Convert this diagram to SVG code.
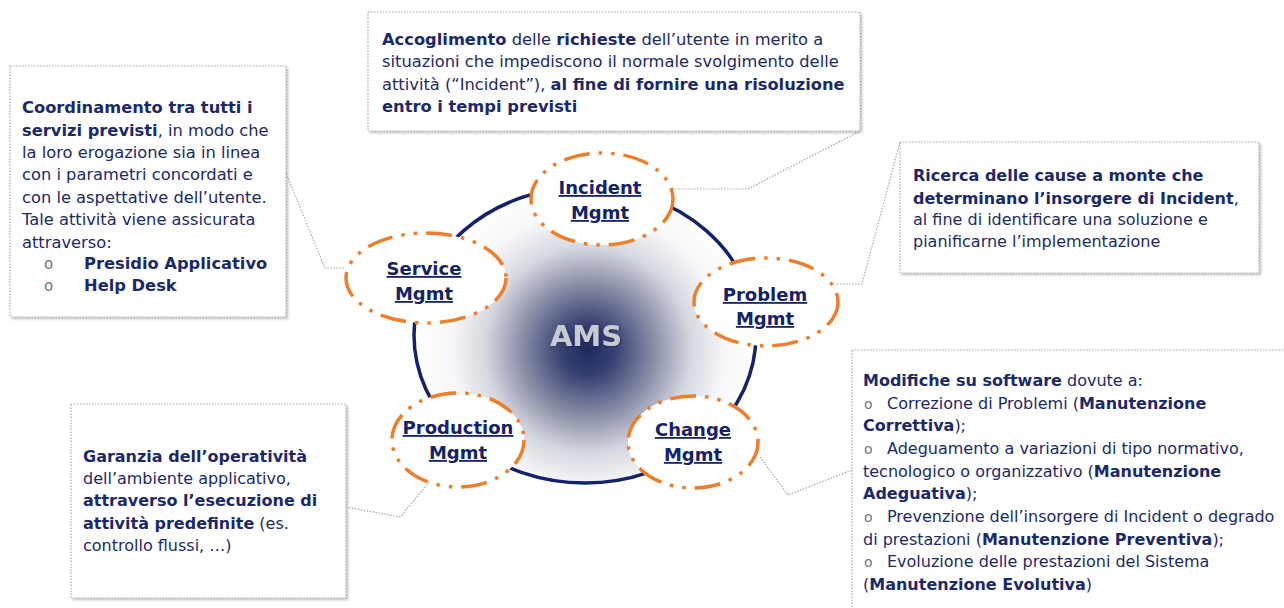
<svg xmlns="http://www.w3.org/2000/svg" width="1284" height="608" viewBox="0 0 1284 608">
<defs>
<radialGradient id="core" gradientUnits="userSpaceOnUse" cx="588" cy="350" r="172">
<stop offset="0" stop-color="#1f295c"/>
<stop offset="0.15" stop-color="#364070"/>
<stop offset="0.38" stop-color="#878ca6"/>
<stop offset="0.6" stop-color="#d6d8e0"/>
<stop offset="0.8" stop-color="#f8f8fa"/>
<stop offset="1" stop-color="#ffffff"/>
</radialGradient>
<filter id="sh" x="-5%" y="-5%" width="110%" height="115%">
<feDropShadow dx="2" dy="2" stdDeviation="1.2" flood-color="#000" flood-opacity="0.22"/>
</filter>
<filter id="tsh" x="-10%" y="-10%" width="120%" height="130%">
<feDropShadow dx="1" dy="1" stdDeviation="0.8" flood-color="#1a2040" flood-opacity="0.6"/>
</filter>
</defs>
<style>
.box{fill:#fff;stroke:#a8a8a8;stroke-width:1.2;stroke-dasharray:1.5 1.5;filter:url(#sh)}
.con{fill:none;stroke:#a8a8a8;stroke-width:1.2;stroke-dasharray:1.5 1.5}
.t{font-family:"DejaVu Sans",Verdana,sans-serif;fill:#1c2969}
.t16{font-size:16px}
.t163{font-size:16.3px}
.b{font-weight:bold}
.bul{font-family:"DejaVu Sans",sans-serif;fill:#6f7488}
.node{fill:#fff;stroke:#ee7d2c;stroke-width:3.5;stroke-dasharray:26 9 3.5 9 3.5 9}
.lbl{font-family:"DejaVu Sans",Verdana,sans-serif;font-size:18px;font-weight:bold;fill:#15226a;text-anchor:middle;text-decoration:underline}
</style>

<rect width="1284" height="608" fill="#fff"/>

<g id="boxes">
<g id="box-incident">
<rect class="box" x="368" y="12" width="492" height="119"/>
<text class="t t163" x="382" y="44.5"><tspan class="b">Accoglimento</tspan> delle <tspan class="b">richieste</tspan> dell’utente in merito a</text>
<text class="t t163" x="382" y="67">situazioni che impediscono il normale svolgimento delle</text>
<text class="t t163" x="382" y="90">attività (“Incident”), <tspan class="b">al fine di fornire una risoluzione</tspan></text>
<text class="t t163 b" x="382" y="112">entro i tempi previsti</text>
</g>
<g id="box-service">
<rect class="box" x="10" y="66" width="276" height="251"/>
<text class="t t163 b" x="22" y="113">Coordinamento tra tutti i</text>
<text class="t t163" x="22" y="135.5"><tspan class="b">servizi previsti</tspan>, in modo che</text>
<text class="t t163" x="22" y="158">la loro erogazione sia in linea</text>
<text class="t t163" x="22" y="180">con i parametri concordati e</text>
<text class="t t163" x="22" y="202.5">con le aspettative dell’utente.</text>
<text class="t t163" x="22" y="225">Tale attività viene assicurata</text>
<text class="t t163" x="22" y="247.5">attraverso:</text>
<text class="bul" x="44" y="269" font-size="15">o</text>
<text class="t t163 b" x="84" y="269">Presidio Applicativo</text>
<text class="bul" x="44" y="291" font-size="15">o</text>
<text class="t t163 b" x="84" y="291">Help Desk</text>
</g>
<g id="box-problem">
<rect class="box" x="900" y="142" width="359" height="131"/>
<text class="t t16 b" x="913" y="181">Ricerca delle cause a monte che</text>
<text class="t t16" x="913" y="203.5"><tspan class="b">determinano l’insorgere di Incident</tspan>,</text>
<text class="t t16" x="913" y="225">al fine di identificare una soluzione e</text>
<text class="t t16" x="913" y="247">pianificarne l’implementazione</text>
</g>
<g id="box-production">
<rect class="box" x="71" y="404" width="275" height="194"/>
<text class="t t16 b" x="83" y="462">Garanzia dell’operatività</text>
<text class="t t16" x="83" y="484">dell’ambiente applicativo,</text>
<text class="t t16 b" x="83" y="506">attraverso l’esecuzione di</text>
<text class="t t16" x="83" y="528.5"><tspan class="b">attività predefinite</tspan> (es.</text>
<text class="t t16" x="83" y="551">controllo flussi, …)</text>
</g>
<g id="box-change">
<rect class="box" x="852" y="350" width="450" height="280"/>
<text class="t t16" x="863" y="386"><tspan class="b">Modifiche su software</tspan> dovute a:</text>
<text class="bul" x="864" y="408.5" font-size="14">o</text>
<text class="t t16" x="887" y="408.5">Correzione di Problemi (<tspan class="b">Manutenzione</tspan></text>
<text class="t t16" x="863" y="431"><tspan class="b">Correttiva</tspan>);</text>
<text class="bul" x="864" y="454" font-size="14">o</text>
<text class="t t16" x="887" y="454">Adeguamento a variazioni di tipo normativo,</text>
<text class="t t16" x="863" y="476.5">tecnologico o organizzativo (<tspan class="b">Manutenzione</tspan></text>
<text class="t t16" x="863" y="499"><tspan class="b">Adeguativa</tspan>);</text>
<text class="bul" x="864" y="522" font-size="14">o</text>
<text class="t t16" x="887" y="522">Prevenzione dell’insorgere di Incident o degrado</text>
<text class="t t16" x="863" y="544.5">di prestazioni (<tspan class="b">Manutenzione Preventiva</tspan>);</text>
<text class="bul" x="864" y="567" font-size="14">o</text>
<text class="t t16" x="887" y="567">Evoluzione delle prestazioni del Sistema</text>
<text class="t t16" x="863" y="590">(<tspan class="b">Manutenzione Evolutiva</tspan>)</text>
</g>
</g>

<g id="connectors">
<polyline class="con" points="673,189 748,189 860,131"/>
<polyline class="con" points="286,173 325,268 346,268"/>
<polyline class="con" points="837,284 862,284 900,142"/>
<polyline class="con" points="346,507 400,517 431,480"/>
<polyline class="con" points="760,457 788,495 852,470"/>
</g>

<g id="ams">
<ellipse cx="585" cy="335" rx="171" ry="148" fill="url(#core)"/>
<ellipse cx="585" cy="335" rx="171" ry="148" fill="none" stroke="#13226a" stroke-width="3.5"/>
<text x="586" y="346" font-family="DejaVu Sans,Verdana,sans-serif" font-size="29" font-weight="bold" fill="#c6cad4" text-anchor="middle" filter="url(#tsh)">AMS</text>
</g>

<g id="node-incident">
<ellipse class="node" cx="602" cy="199" rx="71" ry="46"/>
<text class="lbl" x="600" y="194">Incident</text>
<text class="lbl" x="600" y="219">Mgmt</text>
</g>
<g id="node-service">
<ellipse class="node" cx="426" cy="278" rx="80" ry="45"/>
<text class="lbl" x="424" y="275">Service</text>
<text class="lbl" x="424" y="300">Mgmt</text>
</g>
<g id="node-problem">
<ellipse class="node" cx="766" cy="302" rx="72" ry="44"/>
<text class="lbl" x="765" y="301">Problem</text>
<text class="lbl" x="765" y="325">Mgmt</text>
</g>
<g id="node-production">
<ellipse class="node" cx="458" cy="440" rx="66" ry="47"/>
<text class="lbl" x="458" y="434">Production</text>
<text class="lbl" x="458" y="459">Mgmt</text>
</g>
<g id="node-change">
<ellipse class="node" cx="693" cy="442" rx="65" ry="46"/>
<text class="lbl" x="693" y="436">Change</text>
<text class="lbl" x="693" y="461">Mgmt</text>
</g>
</svg>
